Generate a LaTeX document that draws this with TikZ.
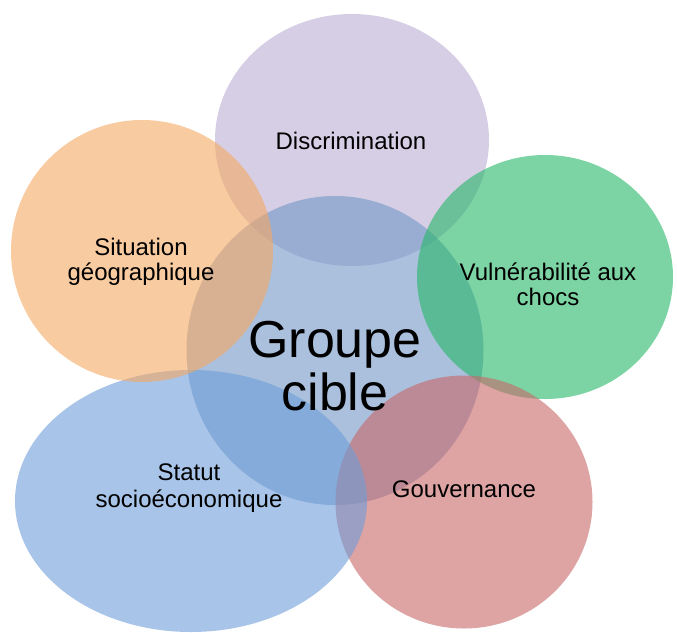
\documentclass[tikz,border=0pt]{standalone}
\usepackage{fontspec}
\setmainfont{Liberation Sans}
\usetikzlibrary{shapes.geometric}

% circle fills (before transparency)
\definecolor{cDisc}{RGB}{187,173,210}
\definecolor{cCible}{RGB}{113,150,198}
\definecolor{cVul}{RGB}{37,183,103}
\definecolor{cGouv}{RGB}{200,103,103}
\definecolor{cStat}{RGB}{110,157,217}
\definecolor{cSit}{RGB}{245,168,97}

\tikzset{
  blob/.style={ellipse, draw=none, inner sep=0pt, fill opacity=0.6},
  lbl/.style={anchor=base, align=center, text=black,
              font=\fontsize{24}{25}\selectfont, inner sep=0pt},
  biglbl/.style={anchor=base, align=center, text=black,
              font=\fontsize{52}{53}\selectfont, inner sep=0pt}
}

\begin{document}
\begin{tikzpicture}[x=1pt,y=-1pt]
  \useasboundingbox (0,0) rectangle (677,632);

  % overlapping circles, back to front
  \node[blob, fill=cDisc,  minimum width=274pt, minimum height=252pt] (disc)  at (352,140) {};
  \node[blob, fill=cCible, minimum width=297pt, minimum height=309pt] (cible) at (335,350.5) {};
  \node[blob, fill=cVul,   minimum width=256pt, minimum height=244pt] (vul)   at (545,277) {};
  \node[blob, fill=cGouv,  minimum width=257pt, minimum height=253pt] (gouv)  at (464,502) {};
  \node[blob, fill=cStat,  minimum width=352pt, minimum height=262pt] (stat)  at (191,501) {};
  \node[blob, fill=cSit,   minimum width=262pt, minimum height=262pt] (sit)   at (142,251) {};

  % labels (multi-line ones sit on the bottom of their block)
  \node[lbl] (tDisc) at (351,149) {Discrimination};
  \node[lbl] (tSit)  at (141,280) {Situation\\géographique};
  \node[lbl] (tVul)  at (548,305) {Vulnérabilité aux\\chocs};
  \node[lbl] (tGouv) at (464,497) {Gouvernance};
  \node[lbl, font=\fontsize{24}{27}\selectfont] (tStat) at (189,507) {Statut\\socioéconomique};
  \node[biglbl] (tCible) at (335,410) {Groupe\\cible};
\end{tikzpicture}
\end{document}
